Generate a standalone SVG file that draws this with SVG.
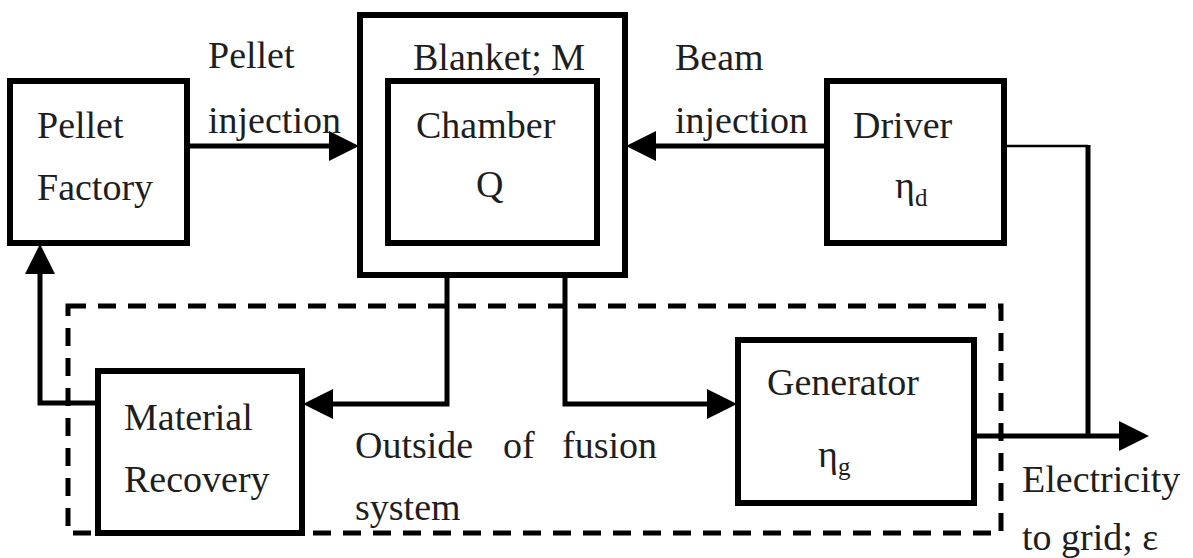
<svg xmlns="http://www.w3.org/2000/svg" width="1193" height="558" viewBox="0 0 1193 558">
<style>
.box{fill:#fff;stroke:#000;stroke-width:6}
.conn{fill:none;stroke:#000;stroke-width:5}
.thin{fill:none;stroke:#000;stroke-width:2.5}
.dash{fill:none;stroke:#000;stroke-width:5;stroke-dasharray:18 12}
text{font-family:'Liberation Serif','Tinos','DejaVu Serif',serif;font-size:38px;fill:#1e1e1e}
.sub{font-size:25px}
</style>
<defs>
<marker id="arr" markerUnits="userSpaceOnUse" markerWidth="30" markerHeight="30" viewBox="0 0 28 28" refX="0" refY="14" orient="auto">
<path d="M0,0 L28,14 L0,28 Z" fill="#000"/>
</marker>
</defs>
<rect width="1193" height="558" fill="#fff"/>
<g id="boundary">
<rect class="dash" x="68" y="306" width="933" height="227"/>
<text font-family="Liberation Serif, serif" x="355" y="458">Outside</text>
<text font-family="Liberation Serif, serif" x="503" y="458">of</text>
<text font-family="Liberation Serif, serif" x="562" y="458">fusion</text>
<text font-family="Liberation Serif, serif" x="355" y="520">system</text>
</g>
<g id="connectors">
<path class="conn" d="M187,146 H329" marker-end="url(#arr)"/>
<path class="conn" d="M827,146 H656" marker-end="url(#arr)"/>
<path class="thin" d="M1004,146 H1088"/>
<path class="conn" d="M1088,145 V436"/>
<path class="conn" d="M974,436 H1119" marker-end="url(#arr)"/>
<path class="conn" d="M447,275 V404 H333" marker-end="url(#arr)"/>
<path class="conn" d="M565,275 V404 H707" marker-end="url(#arr)"/>
<path class="conn" d="M98,403 H40 V274" marker-end="url(#arr)"/>
<text x="208" y="68">Pellet</text>
<text x="208" y="133">injection</text>
<text x="675" y="70">Beam</text>
<text x="675" y="133">injection</text>
<text x="1022" y="492">Electricity</text>
<text x="1022" y="550">to grid; ε</text>
</g>
<g id="pellet-factory">
<rect class="box" x="10" y="81" width="177" height="162"/>
<text x="37" y="138">Pellet</text>
<text x="37" y="200">Factory</text>
</g>
<g id="blanket">
<rect class="box" x="360" y="15" width="265" height="260"/>
<text x="413" y="70">Blanket; M</text>
</g>
<g id="chamber">
<rect class="box" x="388" y="81" width="209" height="162"/>
<text x="416" y="138">Chamber</text>
<text x="476" y="197">Q</text>
</g>
<g id="driver">
<rect class="box" x="827" y="81" width="177" height="162"/>
<text x="853" y="138">Driver</text>
<text x="895" y="198">η<tspan class="sub" dy="8">d</tspan></text>
</g>
<g id="material-recovery">
<rect class="box" x="98" y="371" width="204" height="162"/>
<text x="124" y="430">Material</text>
<text x="124" y="492">Recovery</text>
</g>
<g id="generator">
<rect class="box" x="738" y="340" width="236" height="163"/>
<text x="767" y="395">Generator</text>
<text x="818" y="467">η<tspan class="sub" dy="8">g</tspan></text>
</g>
</svg>
